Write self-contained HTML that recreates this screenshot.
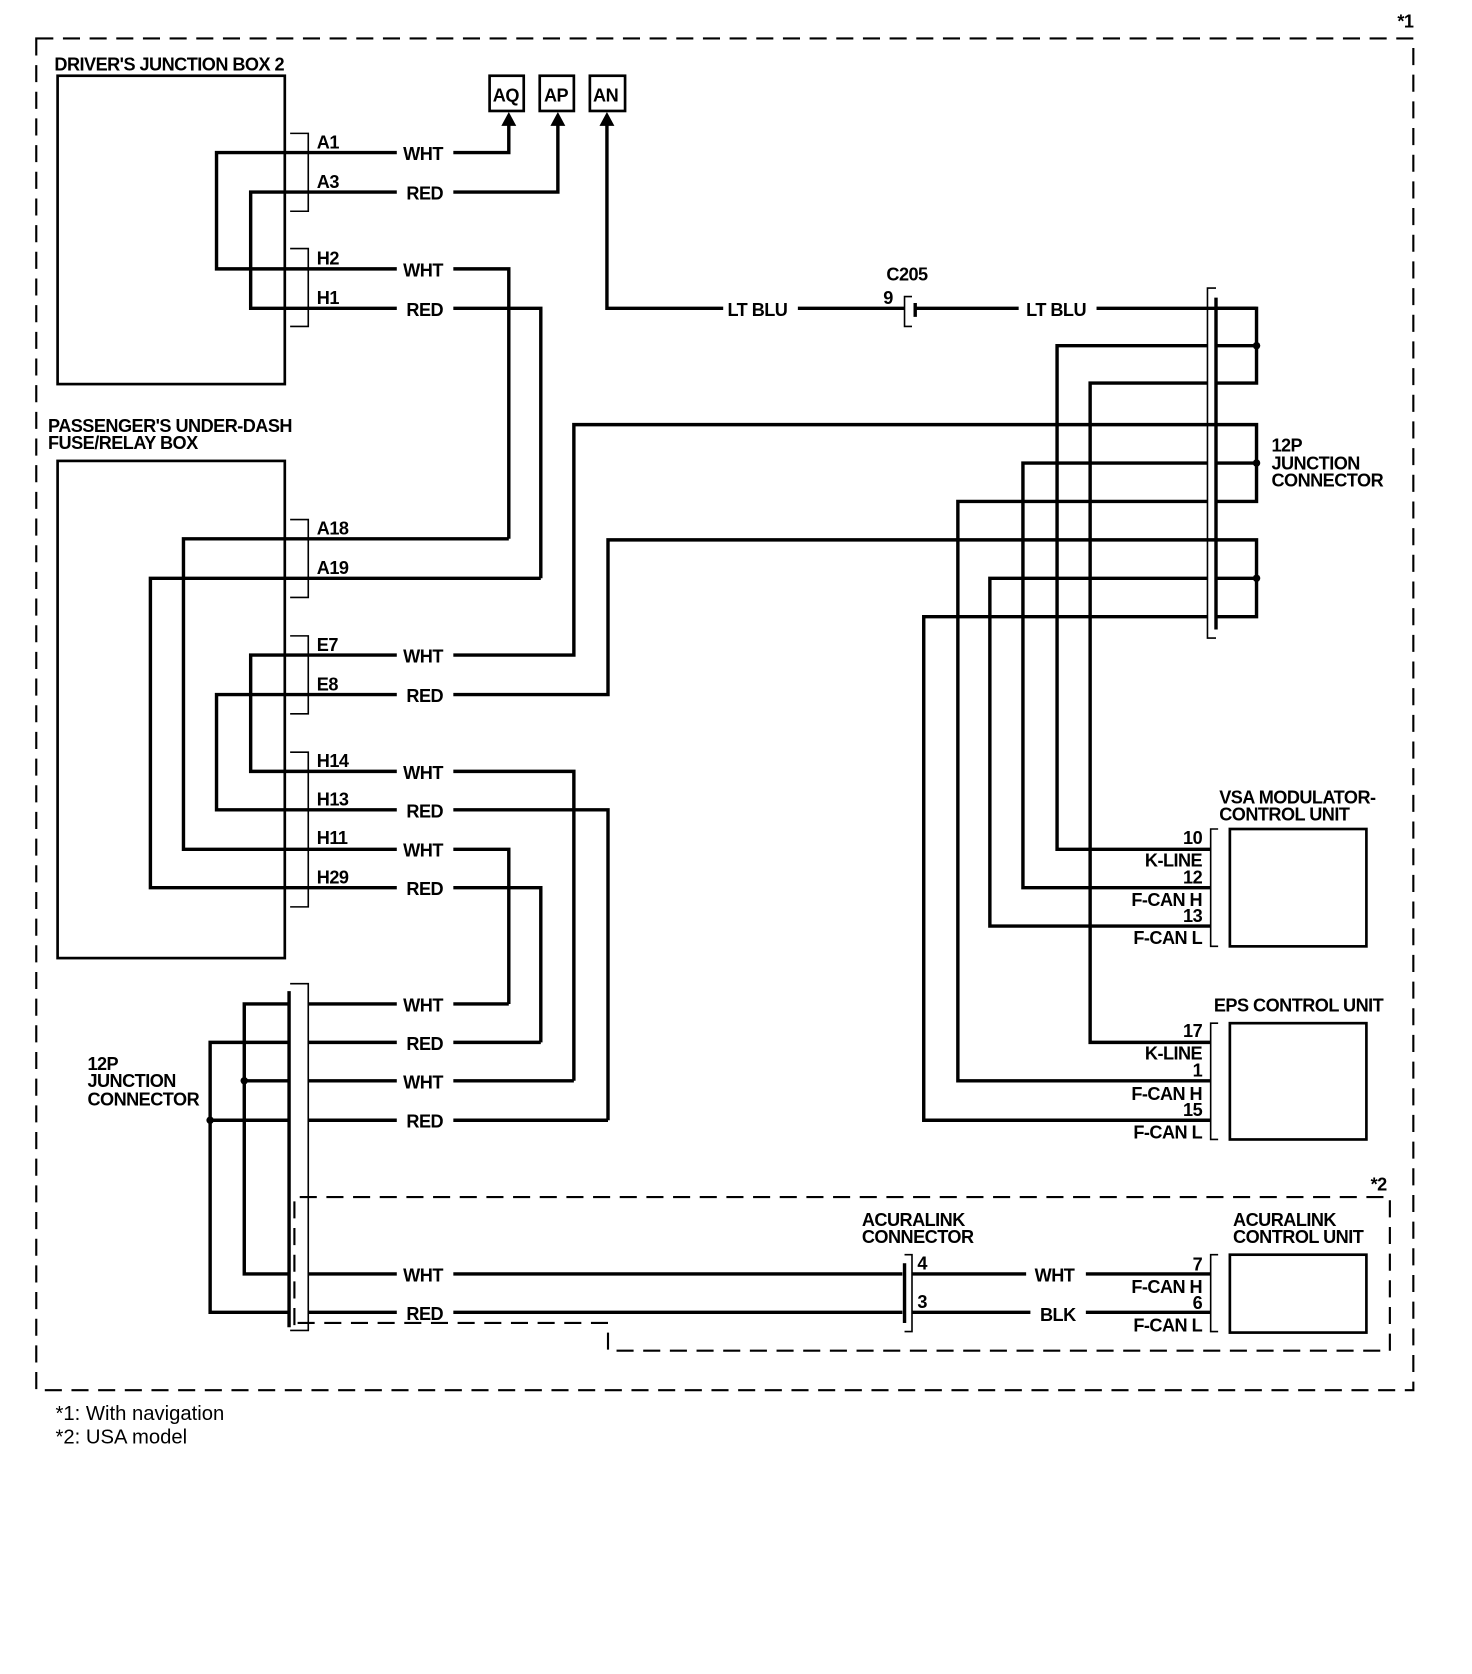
<!DOCTYPE html>
<html><head><meta charset="utf-8"><style>
html,body{margin:0;padding:0;background:#fff;}
svg{display:block;}
text{font-family:"Liberation Sans",sans-serif;font-weight:bold;font-size:17px;fill:#000;letter-spacing:-0.5px;}
.t{stroke:#000;stroke-width:3.2;fill:none;}
.n{stroke:#000;stroke-width:1.5;fill:none;}
.d{stroke:#000;stroke-width:2;fill:none;stroke-dasharray:16,9;}
</style></head><body>
<svg width="1472" height="1674" viewBox="0 0 1380 1569" preserveAspectRatio="none" xmlns="http://www.w3.org/2000/svg">
<rect x="34" y="36" width="1291" height="1267" class="d"/>
<text x="1310" y="26">*1</text>

<text x="51" y="66">DRIVER'S JUNCTION BOX 2</text>
<rect x="54" y="71" width="213" height="289" stroke="#000" stroke-width="2.5" fill="none"/>
<path class="n" d="M272,125H289V198H272 M272,233H289V306H272"/>
<path class="t" d="M267,143H203V252H267 M267,180H235V289H267"/>
<path class="t" d="M267,143H372 M425,143H477V116 M267,180H372 M425,180H523V116 M267,252H372 M425,252H477V505 M267,289H372 M425,289H507V542"/>
<text x="297" y="139">A1</text><text x="297" y="176">A3</text><text x="297" y="248">H2</text><text x="297" y="285">H1</text>
<text x="378" y="150">WHT</text><text x="381" y="187">RED</text><text x="378" y="259">WHT</text><text x="381" y="296">RED</text>
<path d="M470,118L477,105L484,118Z M516,118L523,105L530,118Z M562,118L569,105L576,118Z" fill="#000"/>
<rect x="459" y="71" width="32" height="33" stroke="#000" stroke-width="2.5" fill="none"/>
<rect x="506" y="71" width="32" height="33" stroke="#000" stroke-width="2.5" fill="none"/>
<rect x="553" y="71" width="33" height="33" stroke="#000" stroke-width="2.5" fill="none"/>
<text x="462" y="95">AQ</text><text x="510" y="95">AP</text><text x="556" y="95">AN</text>
<path class="t" d="M569,116V289H678 M748,289H848 M858,289H955 M1028,289H1178V359H1140 M1140,324H1178"/>
<text x="682" y="296">LT BLU</text><text x="962" y="296">LT BLU</text>
<text x="831" y="263">C205</text><text x="828" y="285">9</text>
<path class="n" d="M855,278H848V306H855"/>
<path class="t" d="M858,284V297"/>

<text x="45" y="405">PASSENGER'S UNDER-DASH</text>
<text x="45" y="421">FUSE/RELAY BOX</text>
<rect x="54" y="432" width="213" height="466" stroke="#000" stroke-width="2.5" fill="none"/>
<path class="n" d="M272,487H289V560H272 M272,596H289V669H272 M272,705H289V850H272"/>
<path class="t" d="M267,505H172V796H267 M267,542H141V832H267 M267,614H235V723H267 M267,651H203V759H267"/>
<path class="t" d="M267,505H477 M267,542H507 M267,614H372 M425,614H538V398H1178V470H1140 M1140,434H1178 M267,651H372 M425,651H570V506H1178V578H1140 M1140,542H1178"/>
<path class="t" d="M267,723H372 M425,723H538V1013 M267,759H372 M425,759H570V1050 M267,796H372 M425,796H477V941 M267,832H372 M425,832H507V977"/>
<text x="297" y="501">A18</text><text x="297" y="538">A19</text><text x="297" y="610">E7</text><text x="297" y="647">E8</text>
<text x="297" y="719">H14</text><text x="297" y="755">H13</text><text x="297" y="791">H11</text><text x="297" y="828">H29</text>
<text x="378" y="621">WHT</text><text x="381" y="658">RED</text>
<text x="378" y="730">WHT</text><text x="381" y="766">RED</text><text x="378" y="803">WHT</text><text x="381" y="839">RED</text>

<path class="n" d="M272,922H289V1247H272"/>
<path class="t" d="M271,929V1244"/>
<path class="t" d="M271,941H229V1194H271 M229,1013H271 M271,977H197V1230H271 M197,1050H271"/>
<circle cx="229" cy="1013" r="3.5"/><circle cx="197" cy="1050" r="3.5"/>
<path class="t" d="M289,941H372 M425,941H477 M289,977H372 M425,977H507 M289,1013H372 M425,1013H538 M289,1050H372 M425,1050H570"/>
<text x="378" y="948">WHT</text><text x="381" y="984">RED</text><text x="378" y="1020">WHT</text><text x="381" y="1057">RED</text>
<text x="82" y="1003">12P</text><text x="82" y="1019">JUNCTION</text><text x="82" y="1036">CONNECTOR</text>

<path class="d" d="M276,1242V1122H1303V1266H570V1240H276"/>
<text x="1285" y="1116">*2</text>
<path class="t" d="M289,1194H372 M425,1194H846 M289,1230H372 M425,1230H846"/>
<text x="378" y="1201">WHT</text><text x="381" y="1237">RED</text>
<path class="t" d="M848,1184V1240"/>
<path class="n" d="M848,1176H855V1248H848"/>
<text x="808" y="1149">ACURALINK</text><text x="808" y="1165">CONNECTOR</text>
<text x="860" y="1190">4</text><text x="860" y="1226">3</text>
<path class="t" d="M855,1194H962 M1018,1194H1135 M855,1230H966 M1018,1230H1135"/>
<text x="970" y="1201">WHT</text><text x="975" y="1238">BLK</text>
<path class="n" d="M1142,1176H1135V1248H1142"/>
<rect x="1153" y="1176" width="128" height="73" stroke="#000" stroke-width="2.5" fill="none"/>
<text x="1156" y="1149">ACURALINK</text><text x="1156" y="1165">CONTROL UNIT</text>
<g text-anchor="end"><text x="1127" y="1191">7</text><text x="1127" y="1212">F-CAN H</text><text x="1127" y="1227">6</text><text x="1127" y="1248">F-CAN L</text></g>

<path class="n" d="M1140,270H1132V598H1140"/>
<path class="t" d="M1140,279V590"/>
<text x="1192" y="423">12P</text><text x="1192" y="440">JUNCTION</text><text x="1192" y="456">CONNECTOR</text>
<circle cx="1178" cy="324" r="3.5"/><circle cx="1178" cy="434" r="3.5"/><circle cx="1178" cy="542" r="3.5"/>
<path class="t" d="M1140,289H1178 M1132,324H991V796H1135 M1132,359H1022V977H1135 M1132,434H959V832H1135 M1132,470H898V1013H1135 M1132,542H928V868H1135 M1132,578H866V1050H1135"/>

<text x="1143" y="753">VSA MODULATOR-</text><text x="1143" y="769">CONTROL UNIT</text>
<path class="n" d="M1142,777H1135V887H1142"/>
<rect x="1153" y="777" width="128" height="110" stroke="#000" stroke-width="2.5" fill="none"/>
<g text-anchor="end"><text x="1127" y="791">10</text><text x="1127" y="812">K-LINE</text><text x="1127" y="828">12</text><text x="1127" y="849">F-CAN H</text><text x="1127" y="864">13</text><text x="1127" y="885">F-CAN L</text></g>
<text x="1138" y="948">EPS CONTROL UNIT</text>
<path class="n" d="M1142,959H1135V1068H1142"/>
<rect x="1153" y="959" width="128" height="109" stroke="#000" stroke-width="2.5" fill="none"/>
<g text-anchor="end"><text x="1127" y="972">17</text><text x="1127" y="993">K-LINE</text><text x="1127" y="1009">1</text><text x="1127" y="1031">F-CAN H</text><text x="1127" y="1046">15</text><text x="1127" y="1067">F-CAN L</text></g>

<text x="52" y="1331" style="font-weight:normal;font-size:19px;letter-spacing:0">*1:  With navigation</text>
<text x="52" y="1353" style="font-weight:normal;font-size:19px;letter-spacing:0">*2:  USA model</text>
</svg>
</body></html>
